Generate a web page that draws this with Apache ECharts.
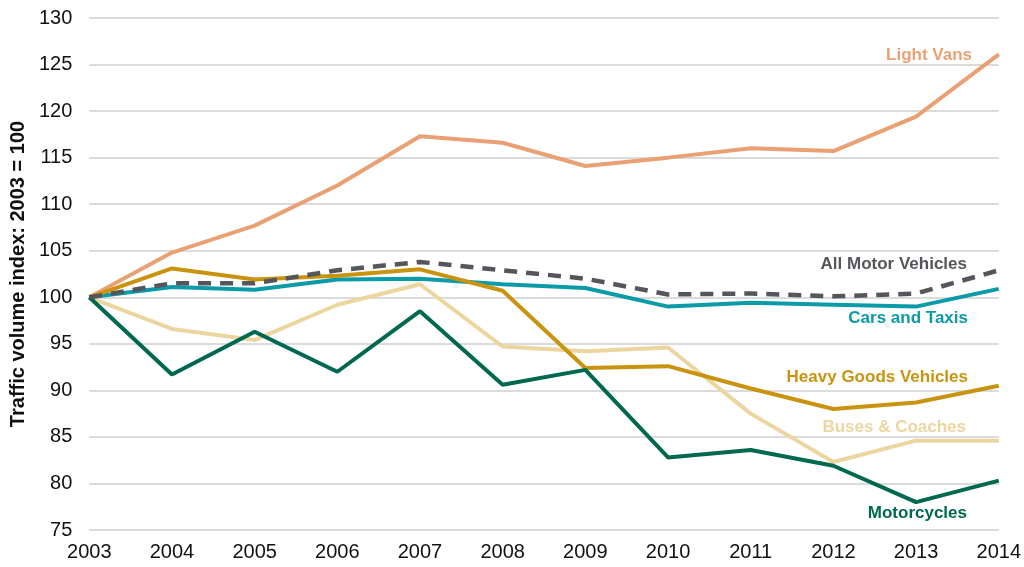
<!DOCTYPE html>
<html>
<head>
<meta charset="utf-8">
<script src="https://cdn.jsdelivr.net/npm/echarts@6/dist/echarts.min.js"></script>
<style>
html,body{margin:0;padding:0;background:#fff;}
#chart{width:1024px;height:567px;}
</style>
</head>
<body>
<div id="chart"></div>
<script>
var years = ['2003','2004','2005','2006','2007','2008','2009','2010','2011','2012','2013','2014'];
var lightVans   = [100, 104.8, 107.7, 112.0, 117.3, 116.6, 114.1, 115.0, 116.0, 115.7, 119.4, 126.1];
var allMotor    = [100, 101.5, 101.5, 102.9, 103.8, 102.9, 102.0, 100.3, 100.4, 100.1, 100.4, 102.9];
var carsTaxis   = [100, 101.1, 100.8, 101.9, 102.0, 101.4, 101.0, 99.0, 99.4, 99.2, 99.0, 100.9];
var hgv         = [100, 103.1, 101.9, 102.3, 103.0, 100.7, 92.4, 92.6, 90.2, 88.0, 88.7, 90.5];
var buses       = [100, 96.6, 95.4, 99.2, 101.4, 94.7, 94.2, 94.6, 87.5, 82.3, 84.6, 84.6];
var motorcycles = [100, 91.7, 96.3, 92.0, 98.5, 90.6, 92.2, 82.8, 83.6, 81.9, 78.0, 80.3];
var yTicks = [75, 80, 85, 90, 95, 100, 105, 110, 115, 120, 125, 130];

var FONT = '"Liberation Sans", Arial, sans-serif';
var C = {
  vans: '#E9A174',
  all: '#54565B',
  cars: '#0B9AA8',
  hgv: '#C9930F',
  bus: '#EDD5A0',
  moto: '#00684F'
};

function lineSeries(name, data, color, dashed) {
  return {
    name: name, type: 'line', data: data, symbol: 'none', smooth: false,
    lineStyle: { color: color, width: dashed ? 4.5 : 4, type: dashed ? [13, 9] : 'solid', cap: 'butt' },
    itemStyle: { color: color }, z: dashed ? 3 : 2, animation: false
  };
}

function label(text, color, x, y) {
  return { type: 'text', x: x, y: y, style: { text: text, fill: color, font: 'bold 17px ' + FONT, textAlign: 'right', textVerticalAlign: 'middle' } };
}

var chart = echarts.init(document.getElementById('chart'));
chart.setOption({
  animation: false,
  grid: { left: 89, right: 24, top: 18, bottom: 37, containLabel: false },
  xAxis: {
    type: 'category', data: years, boundaryGap: false,
    axisLine: { show: false }, axisTick: { show: false },
    axisLabel: { color: '#111', fontFamily: FONT, fontSize: 20, margin: 12 }
  },
  yAxis: {
    type: 'value', min: yTicks[0], max: yTicks[yTicks.length - 1], interval: 5,
    name: 'Traffic volume index: 2003 = 100', nameLocation: 'middle', nameGap: 61,
    nameTextStyle: { color: '#111', fontFamily: FONT, fontSize: 20, fontWeight: 'bold' },
    axisLine: { show: false }, axisTick: { show: false },
    axisLabel: { color: '#111', fontFamily: FONT, fontSize: 20, margin: 17 },
    splitLine: { lineStyle: { color: '#CFCFCF', width: 1.5 } }
  },
  series: [
    lineSeries('Buses & Coaches', buses, C.bus),
    lineSeries('Light Vans', lightVans, C.vans),
    lineSeries('Cars and Taxis', carsTaxis, C.cars),
    lineSeries('Heavy Goods Vehicles', hgv, C.hgv),
    lineSeries('Motorcycles', motorcycles, C.moto),
    lineSeries('All Motor Vehicles', allMotor, C.all, true)
  ],
  graphic: [
    label('Light Vans', C.vans, 972, 55),
    label('All Motor Vehicles', C.all, 967, 264),
    label('Cars and Taxis', C.cars, 968, 318),
    label('Heavy Goods Vehicles', C.hgv, 968, 377),
    label('Buses & Coaches', C.bus, 966, 427),
    label('Motorcycles', C.moto, 967, 513)
  ]
});
</script>
</body>
</html>
